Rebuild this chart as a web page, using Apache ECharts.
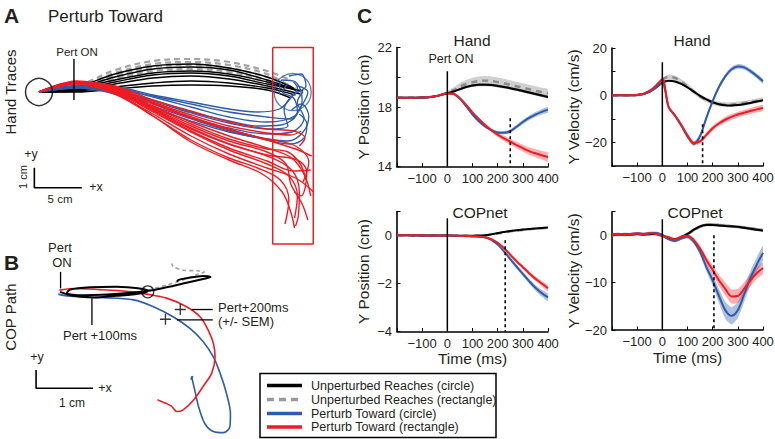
<!DOCTYPE html>
<html><head><meta charset="utf-8">
<script src="https://cdn.jsdelivr.net/npm/echarts@6/dist/echarts.min.js"></script>
<style>html,body{margin:0;padding:0;background:#fff}#c{width:775px;height:439px}</style>
</head><body><div id="c"></div>
<script>
const FONT = '"Liberation Sans", Arial, Helvetica, sans-serif';
const TXT = '#231f20';
const RED = '#ED1C24', BLUE = '#2E5CAA', BLACK = '#000000', GREY = '#A3A3A3';

// ---------- Panel A: hand traces (cm) ----------
const handBlack = [
 [[0,0],[3.7,0.15],[8,0.6],[12,0.95],[16,1.05],[20,0.9],[24,0.5],[27,0.1]],
 [[0,0],[4,0.2],[8,0.75],[12,1.15],[16,1.25],[20,1.1],[24,0.6],[27.3,0.05]],
 [[0,0],[4,0.1],[8,0.4],[12,0.7],[16,0.8],[20,0.65],[24,0.3],[27.5,-0.1]],
 [[0,0],[4,0.05],[8,0.25],[12,0.45],[16,0.55],[20,0.45],[24,0.2],[27,-0.15]],
 [[0,0],[4,0.25],[8,0.9],[12,1.3],[16,1.4],[20,1.2],[24,0.75],[26.8,0.2]],
 [[0,0],[4,0.1],[8,0.5],[12,0.85],[16,0.95],[20,0.8],[24,0.4],[27.8,0.05]],
 [[0,0],[4,0],[8,0.15],[12,0.3],[16,0.35],[20,0.3],[24,0.1],[26.5,-0.3]]
];
const handGrey = [
 [[0,0],[4,0.3],[8,1.1],[12,1.55],[16,1.65],[20,1.5],[24,1.05],[26.5,0.6]],
 [[0,0],[4,0.25],[8,0.95],[12,1.4],[16,1.5],[20,1.35],[24,0.9],[26,0.4]],
 [[0,0],[4,0.2],[8,0.8],[12,1.25],[16,1.35],[20,1.2],[24,0.75],[26.5,0.3]],
 [[0,0],[4,0.15],[8,0.65],[12,1.05],[16,1.15],[20,1.0],[24,0.6],[27,0.2]]
];
const handBlue = [
 [[0,0],[3.7,0.3],[8,0.25],[12,-0.15],[16,-0.5],[20,-0.85],[23,-1.0],[25.3,-0.85],[26.5,-0.3],[27.2,0.2],[26.8,0.5]],
 [[0,0],[4,0.3],[8,0.1],[12,-0.4],[16,-1.0],[20,-1.45],[23,-1.7],[25.5,-1.65],[27.2,-1.0],[26.8,-0.3],[25.6,0.0],[26.2,0.4]],
 [[0,0],[4,0.25],[8,0],[12,-0.6],[16,-1.25],[20,-1.8],[24,-2.1],[26.6,-2.0],[27.9,-1.3],[27.2,-0.5],[27.8,0.0]],
 [[0,0],[4,0.2],[8,-0.1],[12,-0.8],[16,-1.45],[20,-2.0],[24,-2.35],[26.2,-2.45],[27.8,-2.0],[28.4,-1.2],[27.6,-0.6],[26.6,-0.9]],
 [[0,0],[4,0.3],[8,0.2],[12,-0.25],[16,-0.75],[20,-1.25],[24,-1.5],[26.9,-1.2],[27.7,-0.4],[27,0.5],[25.6,0.6],[25.3,-0.1]],
 [[0,0],[4,0.2],[8,-0.05],[12,-0.7],[16,-1.35],[20,-1.95],[24,-2.4],[26.4,-2.6],[27.9,-2.3],[28.2,-1.6],[27.4,-1.1]],
 [[0,0],[4,0.25],[8,0.1],[12,-0.45],[16,-1.05],[20,-1.55],[24,-1.85],[26.2,-1.7],[25.8,-0.9],[26.6,-0.2],[28.1,0.3],[27.6,0.9],[26.3,0.8]],
 [[0,0],[4,0.3],[8,0.2],[12,-0.2],[16,-0.6],[20,-1.0],[24,-1.25],[26.5,-1.35],[27.5,-0.8],[28.3,0.0],[27.2,0.3]]
];
const handRed = [
 [[0,0],[3.7,0.5],[8,0.3],[12,-0.4],[16,-0.95],[20,-1.5],[24,-1.85],[26.8,-1.95],[28,-2.3],[27.4,-2.7]],
 [[0,0],[4,0.5],[8,0.15],[12,-0.7],[16,-1.5],[20,-2.2],[24,-2.8],[26.6,-3.3],[28,-4.2],[28.6,-5.2]],
 [[0,0],[4,0.45],[8,0],[12,-1.0],[16,-2.0],[20,-2.9],[24,-3.6],[26.3,-4.2],[27.2,-5.2],[26.9,-6.3]],
 [[0,0],[4,0.55],[8,0.2],[12,-0.6],[16,-1.3],[20,-1.9],[24,-2.35],[27,-2.7],[28.4,-3.5],[27.8,-4.5]],
 [[0,0],[4,0.5],[8,-0.05],[12,-1.2],[16,-2.4],[20,-3.3],[23,-3.8],[25.4,-4.4],[26.3,-5.4],[25.9,-6.6]],
 [[0,0],[4,0.4],[8,-0.1],[12,-1.1],[16,-2.2],[20,-3.1],[24,-3.8],[27,-4.3],[28.9,-5.0]],
 [[0,0],[4,0.5],[8,0.25],[12,-0.5],[16,-1.15],[20,-1.7],[24,-2.05],[26.5,-2.15],[27.6,-1.95]],
 [[0,0],[4,0.45],[8,0.05],[12,-0.85],[16,-1.8],[20,-2.6],[24,-3.2],[26.6,-3.9],[27.4,-5.0],[27.3,-6.2],[27.0,-6.7]],
 [[0,0],[4,0.5],[8,0.1],[12,-0.75],[16,-1.6],[20,-2.35],[24,-2.85],[26.2,-3.0],[27.5,-3.6],[28.1,-4.4]],
 [[0,0],[4,0.4],[8,-0.1],[12,-1.2],[16,-2.5],[20,-3.4],[23.5,-4.1],[25.6,-5.0],[26.5,-6.0],[26.9,-6.8]],
 [[0,0],[4,0.5],[8,0.2],[12,-0.55],[16,-1.25],[20,-1.85],[24,-2.4],[27,-2.85],[28.7,-3.2]],
 [[0,0],[4,0.45],[8,0.05],[12,-0.95],[16,-1.95],[20,-2.8],[24,-3.45],[26.8,-3.95],[28.6,-3.9]],
 [[0,0],[4,0.5],[8,0.0],[12,-0.9],[16,-1.85],[20,-2.6],[24,-3.15],[27.2,-3.4],[28.2,-4.0],[27.6,-5.2],[26.9,-5.0]],
 [[0,0],[4,0.45],[8,0.1],[12,-0.8],[16,-1.7],[20,-2.45],[24,-3.0],[26,-3.6],[26.5,-4.6],[27.7,-5.6],[28.3,-6.4]]
];
const aStart = [[0,0]];
const aTarget = [[26.7,0]];
const aRect = [[24.6,2.23],[28.87,2.23],[28.87,-7.6],[24.6,-7.6],[24.6,2.23]];
const aPertOnLine = [[3.68,1.65],[3.68,-0.4]];
const aScaleBar = [[-0.49,-3.79],[-0.49,-4.79],[4.51,-4.79]];

// ---------- Panel B: COP path (cm) ----------
const copBlue = [[-0.03,-0.02],[0.12,-0.05],[0.70,-0.08],[1.29,-0.12],[1.64,-0.24],[1.99,-0.42],[2.28,-0.62],[2.51,-0.85],[2.69,-1.12],[2.81,-1.41],[2.92,-1.76],[2.99,-2.11],[2.98,-2.35],[2.87,-2.45],[2.69,-2.43],[2.54,-2.29],[2.43,-1.99],[2.37,-1.73],[2.33,-1.56],[2.31,-1.47],[2.30,-1.52],[2.33,-1.46]];
const copRed = [[-0.01,0.05],[0.23,0.08],[0.70,0.06],[1.17,0.03],[1.52,-0.02],[1.87,-0.09],[2.22,-0.24],[2.46,-0.42],[2.60,-0.65],[2.69,-0.88],[2.72,-1.12],[2.66,-1.41],[2.51,-1.64],[2.34,-1.88],[2.16,-2.05],[2.05,-2.08],[1.96,-1.99],[1.87,-1.94],[1.75,-1.89],[1.71,-1.87]];
const copBlack = [[0,0.02],[0.23,-0.05],[0.58,-0.08],[0.99,-0.05],[1.40,-0.01],[1.55,0.04],[1.40,0.08],[0.99,0.11],[0.53,0.10],[0.18,0.06],[0.12,0.0],[0.3,-0.04],[0.9,-0.02],[1.5,0.03],[1.87,0.10],[2.22,0.18],[2.57,0.26],[2.64,0.28],[2.51,0.30],[2.22,0.26],[2.08,0.23],[2.05,0.20]];
const copGrey = [[1.55,0.05],[1.87,0.14],[2.16,0.23],[2.40,0.32],[2.53,0.37],[2.40,0.39],[2.16,0.40],[1.99,0.46],[1.96,0.52]];
const copCircle = [[1.54,0.02]];
const copPlus = [[2.11,-0.29],[1.85,-0.46]];
const bPertOnLine = [[0.01,0.37],[0.01,0.08]];
const b100Line = [[0.56,-0.09],[0.56,-0.56]];
const b200RedLine = [[2.31,-0.29],[2.68,-0.29]];
const b200BlueLine = [[2.05,-0.47],[2.68,-0.47]];
const bScaleBar = [[-0.42,-1.35],[-0.42,-1.67],[0.58,-1.67]];

// ---------- Panel C: time courses ----------
const time = [-200,-175,-150,-125,-100,-75,-50,-25,0,25,50,75,100,125,150,175,200,225,250,275,300,325,350,375,400];
const xTicks = [-100,0,100,200,300,400];

const tlRed   = [18.63,18.63,18.63,18.63,18.64,18.66,18.72,18.82,18.92,18.9,18.6,18.15,17.65,17.2,16.8,16.45,16.15,15.9,15.68,15.45,15.25,15.05,14.9,14.77,14.65];
const tlBlue  = [18.63,18.63,18.63,18.63,18.64,18.66,18.72,18.82,18.92,18.88,18.55,18.05,17.5,17.05,16.7,16.45,16.3,16.28,16.38,16.68,17.0,17.28,17.5,17.68,17.83];
const tlBlack = [18.63,18.63,18.63,18.63,18.64,18.66,18.72,18.82,18.93,19.05,19.2,19.35,19.45,19.5,19.5,19.48,19.42,19.35,19.27,19.18,19.08,18.98,18.88,18.78,18.68];
const tlGrey  = [18.63,18.63,18.63,18.63,18.64,18.67,18.73,18.84,18.97,19.15,19.38,19.55,19.67,19.75,19.78,19.75,19.68,19.6,19.5,19.4,19.3,19.2,19.1,19.0,18.92];
const tlRedSem   = [0.03,0.03,0.03,0.03,0.03,0.03,0.03,0.03,0.03,0.04,0.05,0.06,0.07,0.09,0.11,0.13,0.15,0.17,0.19,0.21,0.23,0.25,0.27,0.29,0.31];
const tlBlueSem  = [0.03,0.03,0.03,0.03,0.03,0.03,0.03,0.03,0.03,0.04,0.05,0.06,0.07,0.08,0.09,0.1,0.11,0.12,0.13,0.14,0.15,0.16,0.17,0.18,0.19];
const tlBlackSem = [0.03,0.03,0.03,0.03,0.03,0.03,0.03,0.03,0.05,0.06,0.07,0.08,0.09,0.1,0.1,0.1,0.1,0.1,0.1,0.1,0.1,0.1,0.1,0.1,0.1];
const tlGreySem  = [0.03,0.03,0.03,0.03,0.03,0.03,0.03,0.03,0.1,0.18,0.24,0.27,0.3,0.3,0.3,0.3,0.3,0.3,0.3,0.3,0.3,0.3,0.3,0.3,0.3];

const trRed   = [0,0,0,0,0.1,0.6,1.9,4.0,6.8,-5,-8.5,-12.5,-17,-20.3,-19.6,-16.8,-14,-12,-10.4,-9.2,-8.2,-7.4,-6.7,-6.0,-5.4];
const trBlue  = [0,0,0,0,0.1,0.5,1.5,3.2,5.2,-5,-8.7,-12.8,-17.5,-20.6,-17.3,-9.6,-2.5,3.5,8,11,12.2,11.8,10.2,8.2,5.9];
const trBlack = [0,0,0,0,0.1,0.5,1.5,3.3,5.3,6.1,5.8,4.8,3.3,1.5,-0.3,-1.8,-3,-3.8,-4.3,-4.4,-4.2,-3.8,-3.3,-2.7,-2.1];
const trGrey  = [0,0,0,0,0.1,0.6,1.8,4.0,6.6,7.8,7.3,5.8,3.8,1.5,-0.5,-2.0,-3.0,-3.7,-4.0,-4.0,-3.7,-3.3,-2.9,-2.4,-1.9];
const trRedSem   = [0.1,0.1,0.1,0.1,0.1,0.1,0.1,0.1,0.4,0.5,0.6,0.7,0.8,0.9,1.0,1.0,1.1,1.1,1.2,1.2,1.2,1.2,1.3,1.3,1.3];
const trBlueSem  = [0.1,0.1,0.1,0.1,0.1,0.1,0.1,0.1,0.4,0.5,0.6,0.7,0.8,0.9,1.0,1.0,1.0,1.0,1.0,1.0,1.0,1.0,1.0,1.0,1.0];
const trBlackSem = [0.1,0.1,0.1,0.1,0.1,0.1,0.1,0.1,0.3,0.3,0.3,0.3,0.3,0.3,0.3,0.3,0.3,0.3,0.3,0.3,0.3,0.3,0.3,0.3,0.3];
const trGreySem  = [0.1,0.1,0.1,0.1,0.1,0.1,0.1,0.2,0.8,1.0,1.0,1.0,1.0,1.0,1.0,1.0,1.0,1.0,1.0,1.0,1.0,1.0,1.0,1.0,1.0];

const blRed   = [0.02,0.01,0.01,0.01,0.01,0,0,0,0,-0.01,-0.01,-0.02,-0.03,-0.04,-0.07,-0.15,-0.3,-0.52,-0.8,-1.07,-1.32,-1.57,-1.8,-2.0,-2.2];
const blBlue  = [0.02,0.01,0.01,0.01,0.01,0,0,0,0,-0.01,-0.02,-0.03,-0.04,-0.05,-0.08,-0.18,-0.38,-0.66,-0.98,-1.3,-1.6,-1.9,-2.18,-2.4,-2.58];
const blBlack = [0.01,0.01,0.01,0,0,0,0,0,0,-0.01,-0.01,-0.01,-0.01,0,0.01,0.05,0.1,0.15,0.19,0.22,0.25,0.27,0.29,0.31,0.33];
const blGrey  = [0.01,0.01,0.01,0,0,0,0,0,0,-0.01,-0.01,-0.01,-0.02,-0.01,0,0.04,0.08,0.13,0.17,0.2,0.23,0.26,0.28,0.3,0.32];
const blRedSem   = [0.02,0.02,0.02,0.02,0.02,0.02,0.02,0.02,0.02,0.02,0.02,0.02,0.02,0.02,0.02,0.03,0.04,0.05,0.06,0.07,0.08,0.09,0.1,0.11,0.12];
const blBlueSem  = [0.02,0.02,0.02,0.02,0.02,0.02,0.02,0.02,0.02,0.02,0.02,0.02,0.02,0.02,0.03,0.04,0.05,0.06,0.08,0.09,0.1,0.11,0.12,0.14,0.15];
const blBlackSem = [0.02,0.02,0.02,0.02,0.02,0.02,0.02,0.02,0.02,0.02,0.02,0.02,0.02,0.02,0.02,0.03,0.03,0.03,0.03,0.03,0.03,0.03,0.03,0.03,0.03];
const blGreySem  = [0.02,0.02,0.02,0.02,0.02,0.02,0.02,0.02,0.02,0.02,0.02,0.02,0.02,0.02,0.02,0.03,0.03,0.03,0.03,0.03,0.03,0.03,0.03,0.03,0.03];

const brRed   = [0.1,0.3,0.1,0.3,0.4,0.2,0.5,0.3,-0.2,-0.4,-0.9,-0.3,-0.1,-1.0,-2.8,-5.2,-7.3,-9.5,-11.3,-12.9,-12.8,-11.3,-9.5,-8.0,-6.9];
const brBlue  = [0.2,0.1,0.3,0.2,0.4,0.3,0.4,0.5,0,-0.8,-1.2,-0.7,-0.3,-1.3,-3.5,-6.7,-9.5,-12.8,-15.8,-17.0,-15.8,-12.5,-9.0,-6.2,-3.7];
const brBlack = [0.1,0.2,0.1,0.2,0.3,0.2,0.3,0.3,0,-0.7,-0.9,-0.4,0.3,1.2,1.9,2.2,2.2,2.1,2.0,1.9,1.8,1.6,1.4,1.2,1.0];
const brGrey  = [0,0.2,0.2,0.1,0.3,0.3,0.2,0.4,0.1,-0.5,-0.8,-0.5,0.2,1.0,1.8,2.3,2.3,2.2,2.1,1.9,1.8,1.7,1.5,1.3,1.1];
const brRedSem   = [0.3,0.3,0.3,0.3,0.3,0.3,0.3,0.3,0.3,0.3,0.3,0.3,0.4,0.5,0.6,0.8,1.0,1.2,1.4,1.5,1.5,1.4,1.3,1.2,1.2];
const brBlueSem  = [0.3,0.3,0.3,0.3,0.3,0.3,0.3,0.3,0.3,0.3,0.3,0.3,0.4,0.5,0.7,0.9,1.2,1.5,1.8,1.8,1.7,1.6,1.5,1.5,1.5];
const brBlackSem = [0.3,0.3,0.3,0.3,0.3,0.3,0.3,0.3,0.3,0.3,0.3,0.3,0.3,0.3,0.3,0.3,0.3,0.3,0.3,0.3,0.3,0.3,0.3,0.3,0.3];
const brGreySem  = [0.3,0.3,0.3,0.3,0.3,0.3,0.3,0.3,0.3,0.3,0.3,0.3,0.3,0.3,0.3,0.3,0.3,0.3,0.3,0.3,0.3,0.3,0.3,0.3,0.3];

const tlPertLine = [[0,20.4],[0,14]];   const tlDashLine = [[250,17.25],[250,14]];
const trPertLine = [[0,14],[0,-30]];    const trDashLine = [[160,-12.3],[160,-30]];
const blPertLine = [[0,0.72],[0,-4]];   const blDashLine = [[230,-0.2],[230,-4]];
const brPertLine = [[0,3.4],[0,-20]];   const brDashLine = [[205,0],[205,-20]];

const legendNames = ['Unperturbed Reaches (circle)','Unperturbed Reaches (rectangle)','Perturb Toward (circle)','Perturb Toward (rectangle)'];

// ---------- build ----------
const series = [];
function line(g, data, color, width, extra) {
  return Object.assign({type:'line', xAxisIndex:g, yAxisIndex:g, data:data, symbol:'none', silent:true,
    animation:false, lineStyle:{color:color, width:width}}, extra || {});
}
// Panel A
handGrey.forEach(d => series.push(line(0, d, GREY, 2.2, {smooth:0.35, lineStyle:{color:GREY, width:2.2, type:[6,4]}})));
handBlack.forEach(d => series.push(line(0, d, BLACK, 1.4, {smooth:0.35})));
handBlue.forEach(d => series.push(line(0, d, BLUE, 1.3, {smooth:0.35})));
handRed.forEach(d => series.push(line(0, d, RED, 1.4, {smooth:0.35})));
series.push(line(0, aRect, RED, 1.5));
series.push(line(0, aPertOnLine, BLACK, 1.4));
series.push(line(0, aScaleBar, BLACK, 1.6));
series.push({type:'scatter', xAxisIndex:0, yAxisIndex:0, data:aStart, symbol:'circle', symbolSize:27, silent:true,
  itemStyle:{color:'rgba(0,0,0,0)', borderColor:BLACK, borderWidth:1.5}, z:5});
series.push({type:'scatter', xAxisIndex:0, yAxisIndex:0, data:aTarget, symbol:'circle', symbolSize:37, silent:true,
  itemStyle:{color:'rgba(0,0,0,0)', borderColor:BLUE, borderWidth:1.3}, z:5});
// Panel B
series.push(line(1, copGrey, GREY, 1.6, {smooth:0.3, lineStyle:{color:GREY, width:1.6, type:[4,3]}}));
series.push(line(1, copBlue, BLUE, 1.6, {smooth:0.3}));
series.push(line(1, copRed, RED, 1.6, {smooth:0.3}));
series.push(line(1, copBlack, BLACK, 2, {smooth:0.3}));
series.push({type:'scatter', xAxisIndex:1, yAxisIndex:1, data:copCircle, symbol:'circle', symbolSize:12, silent:true,
  itemStyle:{color:'rgba(0,0,0,0)', borderColor:BLACK, borderWidth:1.3}, z:5});
series.push({type:'scatter', xAxisIndex:1, yAxisIndex:1, data:copPlus, symbol:'path://M4.4,0H5.6V4.4H10V5.6H5.6V10H4.4V5.6H0V4.4H4.4Z',
  symbolSize:11, silent:true, itemStyle:{color:BLACK}, z:5});
[bPertOnLine, b100Line, b200RedLine, b200BlueLine].forEach(d => series.push(line(1, d, BLACK, 1.3)));
series.push(line(1, bScaleBar, BLACK, 1.6));

// Panel C
function band(g, mean, sem, fill) {
  series.push({type:'custom', coordinateSystem:'cartesian2d', xAxisIndex:g, yAxisIndex:g, silent:true, clip:true,
    data:[[time[0], mean[0]]],
    renderItem:function (params, api) {
      const up = time.map((t, i) => api.coord([t, mean[i] + sem[i]]));
      const lo = time.map((t, i) => api.coord([t, mean[i] - sem[i]])).reverse();
      return {type:'polygon', shape:{points:up.concat(lo), smooth:0.2}, style:{fill:fill, stroke:null}};
    }});
}
function cPanel(g, grey, greySem, black, blackSem, blue, blueSem, red, redSem, pertLine, dashLine) {
  const pts = a => time.map((t, i) => [t, a[i]]);
  band(g, grey, greySem, 'rgba(150,150,150,0.45)');
  series.push(line(g, pts(grey), GREY, 2.4, {smooth:0.3, lineStyle:{color:'#8c8c8c', width:2.4, type:[6,5]}}));
  band(g, black, blackSem, 'rgba(0,0,0,0.3)');
  series.push(line(g, pts(black), BLACK, 2, {smooth:0.3}));
  band(g, blue, blueSem, 'rgba(46,92,170,0.38)');
  series.push(line(g, pts(blue), BLUE, 2, {smooth:0.3}));
  band(g, red, redSem, 'rgba(237,28,36,0.35)');
  series.push(line(g, pts(red), RED, 2, {smooth:0.3}));
  series.push(line(g, pertLine, BLACK, 1.5));
  series.push(line(g, dashLine, BLACK, 1.6, {lineStyle:{color:BLACK, width:1.6, type:[3,3]}}));
}
cPanel(2, tlGrey, tlGreySem, tlBlack, tlBlackSem, tlBlue, tlBlueSem, tlRed, tlRedSem, tlPertLine, tlDashLine);
cPanel(3, trGrey, trGreySem, trBlack, trBlackSem, trBlue, trBlueSem, trRed, trRedSem, trPertLine, trDashLine);
cPanel(4, blGrey, blGreySem, blBlack, blBlackSem, blBlue, blBlueSem, blRed, blRedSem, blPertLine, blDashLine);
cPanel(5, brGrey, brGreySem, brBlack, brBlackSem, brBlue, brBlueSem, brRed, brRedSem, brPertLine, brDashLine);

const minus = v => String(v).replace('-', '\u2212');
const hidden = (min, max) => ({type:'value', min:min, max:max, show:false});
function cx(g, named) {
  return {type:'value', gridIndex:g, min:-200, max:400, interval:100,
    axisLine:{show:true, onZero:false, lineStyle:{color:BLACK, width:1.6}},
    axisTick:{inside:true, length:3.5, lineStyle:{color:BLACK, width:1}},
    axisLabel:{color:TXT, fontSize:13, fontFamily:FONT, margin:5, formatter:v => (xTicks.indexOf(v) >= 0 ? minus(v) : '')},
    splitLine:{show:false},
    name: named ? 'Time (ms)' : '', nameLocation:'middle', nameGap:19,
    nameTextStyle:{color:TXT, fontSize:15.5, fontFamily:FONT}};
}
function cy(g, min, max, interval, show, name) {
  return {type:'value', gridIndex:g, min:min, max:max, interval:interval,
    axisLine:{show:true, onZero:false, lineStyle:{color:BLACK, width:1.6}},
    axisTick:{inside:true, length:3.5, lineStyle:{color:BLACK, width:1}},
    axisLabel:{color:TXT, fontSize:13, fontFamily:FONT, margin:5, formatter:v => (show.indexOf(v) >= 0 ? minus(v) : '')},
    splitLine:{show:false},
    name:name, nameLocation:'middle', nameGap:26, nameRotate:90,
    nameTextStyle:{color:TXT, fontSize:15.5, fontFamily:FONT}};
}
const gridBase = {containLabel:false, outerBoundsMode:'none', show:false};
const option = {
  backgroundColor:'#ffffff',
  animation:false,
  grid:[
    Object.assign({left:20, top:42, width:294.5, height:210}, gridBase),
    Object.assign({left:20.1, top:230.3, width:285, height:210.9}, gridBase),
    Object.assign({left:397, top:47.5, width:151, height:119.2}, gridBase),
    Object.assign({left:612, top:48, width:151, height:118}, gridBase),
    Object.assign({left:397, top:211.5, width:151, height:120}, gridBase),
    Object.assign({left:612, top:211.7, width:151, height:118.3}, gridBase)
  ],
  xAxis:[
    Object.assign(hidden(-2, 29), {gridIndex:0}),
    Object.assign(hidden(-0.7, 4.3), {gridIndex:1}),
    cx(2, false), cx(3, false), cx(4, true), cx(5, true)
  ],
  yAxis:[
    Object.assign(hidden(-8, 2.5), {gridIndex:0}),
    Object.assign(hidden(-2.6, 1.1), {gridIndex:1}),
    cy(2, 14, 22, 2, [14,18,22], 'Y Position (cm)'),
    cy(3, -30, 20, 10, [-20,0,20], 'Y Velocity (cm/s)'),
    cy(4, -4, 1, 2, [-4,-2,0], 'Y Position (cm)'),
    cy(5, -20, 5, 10, [-20,-10,0], 'Y Velocity (cm/s)')
  ],
  series:series,
  graphic:[]
};
function txt(text, x, y, size, opts) {
  const o = Object.assign({align:'center', bold:false, rot:0}, opts || {});
  return {type:'text', x:x, y:y, rotation:o.rot, silent:true, z:100,
    style:{text:text, fill:TXT, fontSize:size, fontFamily:FONT, fontWeight:o.bold ? 'bold' : 'normal',
      align:o.align, verticalAlign:'middle'}};
}
const G = option.graphic;
G.push(txt('A', 4, 15, 21, {align:'left', bold:true}));
G.push(txt('Perturb Toward', 48, 16, 17, {align:'left'}));
G.push(txt('Hand Traces', 10, 92, 15, {rot:Math.PI/2}));
G.push(txt('Pert ON', 77, 52, 11.5));
G.push(txt('+y', 31, 154, 12.5));
G.push(txt('+x', 96, 187, 12.5));
G.push(txt('5 cm', 60, 199, 11.5));
G.push(txt('1 cm', 22.5, 177, 11, {rot:Math.PI/2}));
G.push(txt('B', 4, 262, 21, {align:'left', bold:true}));
G.push(txt('COP Path', 10, 317, 15, {rot:Math.PI/2}));
G.push(txt('Pert', 60, 247, 13));
G.push(txt('ON', 62, 262, 13));
G.push(txt('Pert +100ms', 100, 335, 13));
G.push(txt('Pert+200ms', 218, 307, 13, {align:'left'}));
G.push(txt('(+/- SEM)', 218, 321, 13, {align:'left'}));
G.push(txt('+y', 37, 357, 12.5));
G.push(txt('+x', 105, 388, 12.5));
G.push(txt('1 cm', 72, 403, 12));
G.push(txt('C', 357, 15, 21, {align:'left', bold:true}));
G.push(txt('Hand', 472, 40, 15.5));
G.push(txt('Hand', 692, 40, 15.5));
G.push(txt('COPnet', 480, 212, 15.5));
G.push(txt('COPnet', 695, 212, 15.5));
G.push(txt('Pert ON', 451, 59, 12.5));
G.push({type:'rect', shape:{x:260, y:373.5, width:236, height:64}, silent:true, z:90,
  style:{fill:'#ffffff', stroke:BLACK, lineWidth:1.5}});
const legStyles = [
  {stroke:BLACK, lineWidth:3.5},
  {stroke:'#9a9a9a', lineWidth:3.5, lineDash:[7,5]},
  {stroke:BLUE, lineWidth:3.5},
  {stroke:RED, lineWidth:3.5}
];
const legY = [385.5, 399.5, 413.5, 427];
legendNames.forEach((n, i) => {
  G.push({type:'line', shape:{x1:267, y1:legY[i], x2:302, y2:legY[i]}, silent:true, z:95, style:legStyles[i]});
  G.push(txt(n, 311, legY[i], 12.5, {align:'left'}));
});

const chart = echarts.init(document.getElementById('c'), null, {renderer:'svg', width:775, height:439});
chart.setOption(option);
</script></body></html>
